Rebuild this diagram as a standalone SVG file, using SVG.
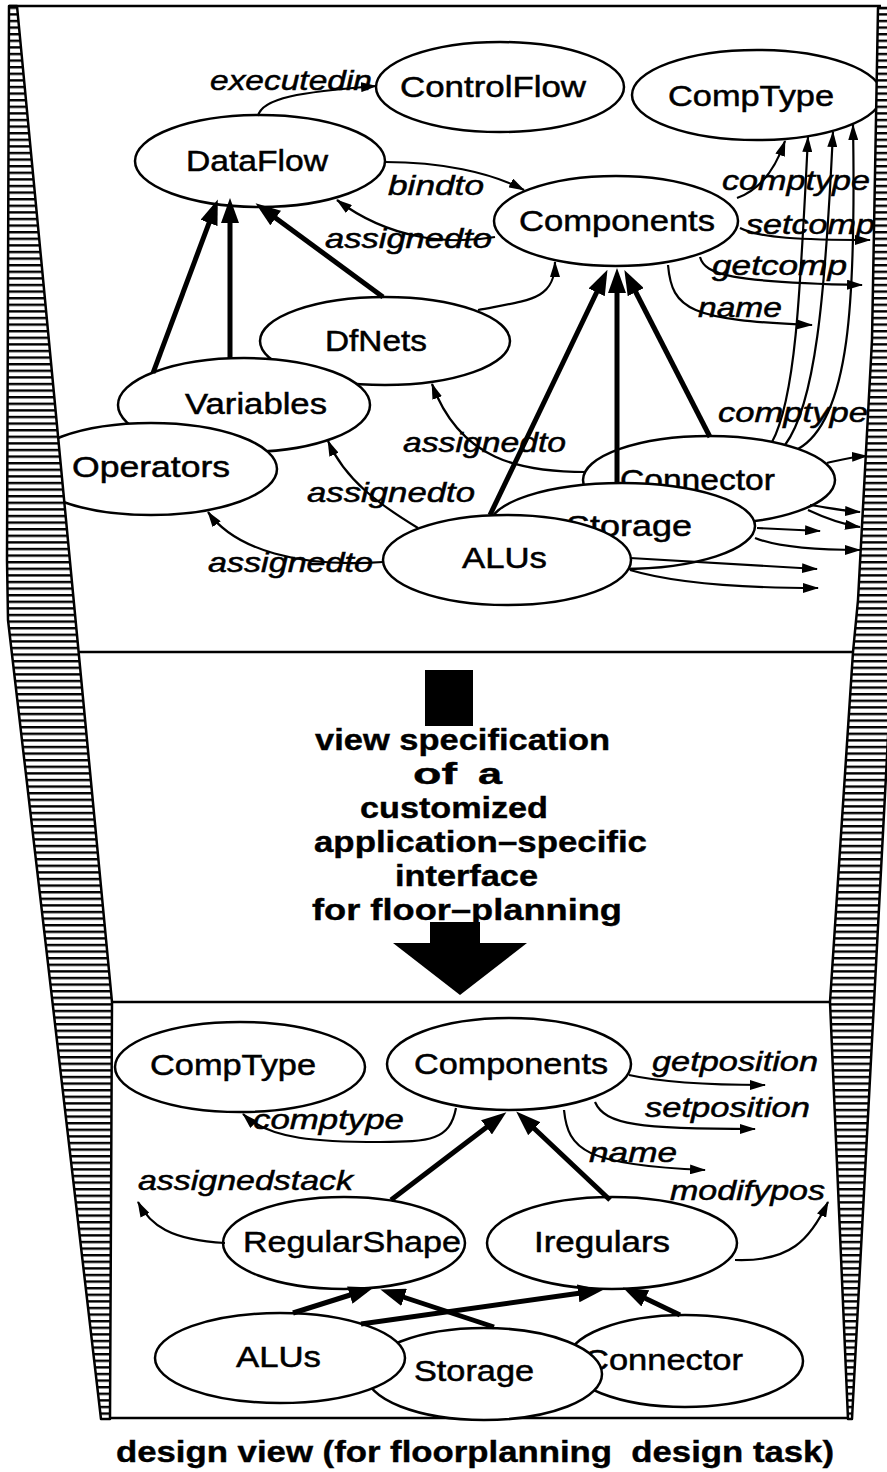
<svg xmlns="http://www.w3.org/2000/svg" width="887" height="1472" viewBox="0 0 887 1472">
  <defs>
    <!-- horizontal hatching for the side bands -->
    <pattern id="hatch" patternUnits="userSpaceOnUse" width="20" height="6.6">
      <rect width="20" height="6.6" fill="#fff"/>
      <rect width="20" height="2.4" fill="#000"/>
    </pattern>
    <marker id="ah" markerUnits="userSpaceOnUse" markerWidth="16" markerHeight="10" refX="15" refY="5" orient="auto">
      <path d="M0,0 L16,5 L0,10 z" fill="#000"/>
    </marker>
    <marker id="ahb" markerUnits="userSpaceOnUse" markerWidth="25" markerHeight="18" refX="17" refY="9" orient="auto">
      <path d="M0,0 L25,9 L0,18 z" fill="#000"/>
    </marker>
  </defs>
  <style>
    .node ellipse { fill: #fff; stroke: #000; stroke-width: 2.5; }
    .nl { font-family: "Liberation Sans", Arial, sans-serif; font-size: 29px; fill: #000; stroke: #000; stroke-width: 0.5; }
    .el { font-family: "Liberation Sans", Arial, sans-serif; font-size: 28px; font-style: italic; fill: #000; stroke: #000; stroke-width: 0.5; }
    .thin { fill: none; stroke: #000; stroke-width: 2.2; marker-end: url(#ah); }
    .thick { fill: none; stroke: #000; stroke-width: 5; marker-end: url(#ahb); }
    .frame { fill: none; stroke: #000; stroke-width: 2.5; }
    .band { fill: url(#hatch); stroke: #000; stroke-width: 2.5; stroke-linejoin: round; }
    .spec { font-family: "Liberation Sans", Arial, sans-serif; font-size: 30px; font-weight: bold; fill: #000; stroke: #000; stroke-width: 0.4; }
  </style>
  <rect width="887" height="1472" fill="#fff"/>

  <!-- frame lines -->
  <g id="frame">
    <line class="frame" x1="9" y1="6" x2="881" y2="6"/>
    <line class="frame" x1="70" y1="652" x2="856" y2="652"/>
    <line class="frame" x1="108" y1="1002" x2="834" y2="1002"/>
    <line class="frame" x1="104" y1="1418" x2="850" y2="1418"/>
  </g>

  <!-- edge labels -->
  <g id="edge-labels">
    <text class="el" x="210" y="90" textLength="162" lengthAdjust="spacingAndGlyphs">executedin</text>
    <text class="el" x="388" y="195" textLength="96" lengthAdjust="spacingAndGlyphs">bindto</text>
    <text class="el" x="325" y="248" textLength="167" lengthAdjust="spacingAndGlyphs">assignedto</text>
    <text class="el" x="722" y="190" textLength="148" lengthAdjust="spacingAndGlyphs">comptype</text>
    <text class="el" x="746" y="234" textLength="129" lengthAdjust="spacingAndGlyphs">setcomp</text>
    <text class="el" x="712" y="275" textLength="135" lengthAdjust="spacingAndGlyphs">getcomp</text>
    <text class="el" x="698" y="317" textLength="84" lengthAdjust="spacingAndGlyphs">name</text>
    <text class="el" x="718" y="422" textLength="150" lengthAdjust="spacingAndGlyphs">comptype</text>
    <text class="el" x="403" y="452" textLength="163" lengthAdjust="spacingAndGlyphs">assignedto</text>
    <text class="el" x="307" y="502" textLength="168" lengthAdjust="spacingAndGlyphs">assignedto</text>
    <text class="el" x="208" y="572" textLength="165" lengthAdjust="spacingAndGlyphs">assignedto</text>

    <text class="el" x="652" y="1071" textLength="166" lengthAdjust="spacingAndGlyphs">getposition</text>
    <text class="el" x="645" y="1117" textLength="165" lengthAdjust="spacingAndGlyphs">setposition</text>
    <text class="el" x="253" y="1129" textLength="151" lengthAdjust="spacingAndGlyphs">comptype</text>
    <text class="el" x="589" y="1162" textLength="88" lengthAdjust="spacingAndGlyphs">name</text>
    <text class="el" x="138" y="1190" textLength="215" lengthAdjust="spacingAndGlyphs">assignedstack</text>
    <text class="el" x="670" y="1200" textLength="155" lengthAdjust="spacingAndGlyphs">modifypos</text>
  </g>

  <!-- nodes: upper (full schema) view -->
  <g id="n-controlflow" class="node">
    <ellipse cx="500" cy="87" rx="124" ry="45"/>
    <text class="nl" x="400" y="97" textLength="186" lengthAdjust="spacingAndGlyphs">ControlFlow</text>
  </g>
  <g id="n-comptype" class="node">
    <ellipse cx="757" cy="95" rx="125" ry="45"/>
    <text class="nl" x="668" y="106" textLength="166" lengthAdjust="spacingAndGlyphs">CompType</text>
  </g>
  <g id="n-dataflow" class="node">
    <ellipse cx="260" cy="161" rx="125" ry="46"/>
    <text class="nl" x="186" y="171" textLength="142" lengthAdjust="spacingAndGlyphs">DataFlow</text>
  </g>
  <g id="n-components" class="node">
    <ellipse cx="616" cy="221" rx="122" ry="45"/>
    <text class="nl" x="519" y="231" textLength="196" lengthAdjust="spacingAndGlyphs">Components</text>
  </g>
  <g id="n-dfnets" class="node">
    <ellipse cx="385" cy="341" rx="125" ry="44"/>
    <text class="nl" x="325" y="351" textLength="102" lengthAdjust="spacingAndGlyphs">DfNets</text>
  </g>
  <g id="n-variables" class="node">
    <ellipse cx="244" cy="405" rx="126" ry="47"/>
    <text class="nl" x="185" y="414" textLength="142" lengthAdjust="spacingAndGlyphs">Variables</text>
  </g>
  <g id="n-operators" class="node">
    <ellipse cx="151" cy="469" rx="126" ry="46"/>
    <text class="nl" x="72" y="477" textLength="158" lengthAdjust="spacingAndGlyphs">Operators</text>
  </g>
  <g id="n-connector" class="node">
    <ellipse cx="709" cy="480" rx="126" ry="44"/>
    <text class="nl" x="620" y="490" textLength="155" lengthAdjust="spacingAndGlyphs">Connector</text>
  </g>
  <g id="n-storage" class="node">
    <ellipse cx="622" cy="526" rx="133" ry="43"/>
    <text class="nl" x="566" y="536" textLength="126" lengthAdjust="spacingAndGlyphs">Storage</text>
  </g>
  <g id="n-alus" class="node">
    <ellipse cx="507" cy="560" rx="124" ry="45"/>
    <text class="nl" x="462" y="568" textLength="85" lengthAdjust="spacingAndGlyphs">ALUs</text>
  </g>

  <!-- nodes: lower (floor-planning design) view -->
  <g id="n2-comptype" class="node">
    <ellipse cx="240" cy="1067" rx="125" ry="45"/>
    <text class="nl" x="150" y="1075" textLength="166" lengthAdjust="spacingAndGlyphs">CompType</text>
  </g>
  <g id="n2-components" class="node">
    <ellipse cx="509" cy="1064" rx="122" ry="46"/>
    <text class="nl" x="414" y="1074" textLength="194" lengthAdjust="spacingAndGlyphs">Components</text>
  </g>
  <g id="n2-regularshape" class="node">
    <ellipse cx="344" cy="1243" rx="121" ry="46"/>
    <text class="nl" x="243" y="1252" textLength="218" lengthAdjust="spacingAndGlyphs">RegularShape</text>
  </g>
  <g id="n2-iregulars" class="node">
    <ellipse cx="612" cy="1243" rx="125" ry="46"/>
    <text class="nl" x="534" y="1252" textLength="136" lengthAdjust="spacingAndGlyphs">Iregulars</text>
  </g>
  <g id="n2-connector" class="node">
    <ellipse cx="685" cy="1361" rx="118" ry="46"/>
    <text class="nl" x="584" y="1370" textLength="159" lengthAdjust="spacingAndGlyphs">Connector</text>
  </g>
  <g id="n2-storage" class="node">
    <ellipse cx="484" cy="1374" rx="118" ry="46"/>
    <text class="nl" x="414" y="1381" textLength="120" lengthAdjust="spacingAndGlyphs">Storage</text>
  </g>
  <g id="n2-alus" class="node">
    <ellipse cx="280" cy="1358" rx="125" ry="45"/>
    <text class="nl" x="236" y="1367" textLength="85" lengthAdjust="spacingAndGlyphs">ALUs</text>
  </g>

  <!-- connectors -->
  <g id="connectors">
    <!-- upper view: relations -->
    <path class="thin" d="M258,116 C262,98 300,92 376,86"/>
    <path class="thin" d="M385,162 C440,162 490,172 524,190"/>
    <path class="thin" d="M495,237 C450,245 390,240 337,200"/>
    <path class="thin" d="M478,310 C530,300 555,300 555,262"/>
    <path class="thin" d="M586,472 C520,472 460,460 432,384"/>
    <path class="thin" d="M418,528 C380,505 345,480 328,441"/>
    <path class="thin" d="M383,562 C300,568 235,550 208,512"/>
    <path class="thin" d="M737,198 C760,190 775,170 785,141"/>
    <path class="thin" d="M740,228 C760,238 800,240 870,240"/>
    <path class="thin" d="M700,257 C705,275 730,282 862,285"/>
    <path class="thin" d="M668,265 C672,310 690,320 812,325"/>
    <path class="thin" d="M772,442 C795,400 800,300 808,137"/>
    <path class="thin" d="M785,445 C815,405 825,300 833,132"/>
    <path class="thin" d="M798,449 C850,420 856,300 853,125"/>
    <path class="thin" d="M827,463 C840,460 850,457 867,456"/>
    <path class="thin" d="M810,505 C830,508 845,511 860,512"/>
    <path class="thin" d="M808,510 C825,518 840,524 860,527"/>
    <path class="thin" d="M757,528 L820,531"/>
    <path class="thin" d="M755,538 C780,548 820,550 860,550"/>
    <path class="thin" d="M630,558 L817,569"/>
    <path class="thin" d="M630,570 C680,585 760,588 818,588"/>
    <!-- upper view: specialisation -->
    <path class="thick" d="M153,373 L215,207"/>
    <path class="thick" d="M230,358 L230,206"/>
    <path class="thick" d="M383,297 L262,208"/>
    <path class="thick" d="M490,515 L604,277"/>
    <path class="thick" d="M617,484 L617,276"/>
    <path class="thick" d="M710,437 L628,277"/>

    <!-- lower view: relations -->
    <path class="thin" d="M629,1075 C660,1082 700,1085 765,1085"/>
    <path class="thin" d="M595,1102 C605,1125 640,1129 755,1129"/>
    <path class="thin" d="M456,1108 C450,1140 430,1142 380,1142 C320,1142 270,1140 243,1114"/>
    <path class="thin" d="M564,1110 C568,1150 585,1165 705,1170"/>
    <path class="thin" d="M735,1260 C790,1262 810,1240 828,1202"/>
    <path class="thin" d="M225,1243 C170,1240 150,1225 138,1202"/>
    <!-- lower view: specialisation -->
    <path class="thick" d="M391,1200 L500,1117"/>
    <path class="thick" d="M610,1200 L522,1117"/>
    <path class="thick" d="M293,1313 L366,1290"/>
    <path class="thick" d="M494,1327 L388,1292"/>
    <path class="thick" d="M361,1324 L595,1291"/>
    <path class="thick" d="M680,1315 L630,1291"/>
  </g>

  <!-- view specification step between the two views -->
  <g id="spec">
    <rect x="425" y="670" width="48" height="56" fill="#000"/>
    <text class="spec" x="315" y="750" textLength="295" lengthAdjust="spacingAndGlyphs">view specification</text>
    <text class="spec" x="413" y="784" textLength="44" lengthAdjust="spacingAndGlyphs">of</text>
    <text class="spec" x="478" y="784" textLength="24" lengthAdjust="spacingAndGlyphs">a</text>
    <text class="spec" x="360" y="818" textLength="188" lengthAdjust="spacingAndGlyphs">customized</text>
    <text class="spec" x="314" y="852" textLength="333" lengthAdjust="spacingAndGlyphs">application–specific</text>
    <text class="spec" x="395" y="886" textLength="143" lengthAdjust="spacingAndGlyphs">interface</text>
    <text class="spec" x="312" y="920" textLength="310" lengthAdjust="spacingAndGlyphs">for floor–planning</text>
    <rect x="430" y="922" width="50" height="23" fill="#000"/>
    <polygon points="393,943 527,943 460,995" fill="#000"/>
  </g>

  <!-- hatched side bands -->
  <g id="bands">
    <polygon class="band" points="9,6 17,6 112,1002 110,1419 101,1419 8,620 7,560"/>
    <polygon class="band" points="878,8 890,8 890,700 852,1419 848,1419 830,1002 853,652 858,600 872,340"/>
  </g>

  <text id="caption" class="spec" x="116" y="1462" textLength="718" lengthAdjust="spacingAndGlyphs" style="white-space:pre">design view (for floorplanning  design task)</text>
</svg>
